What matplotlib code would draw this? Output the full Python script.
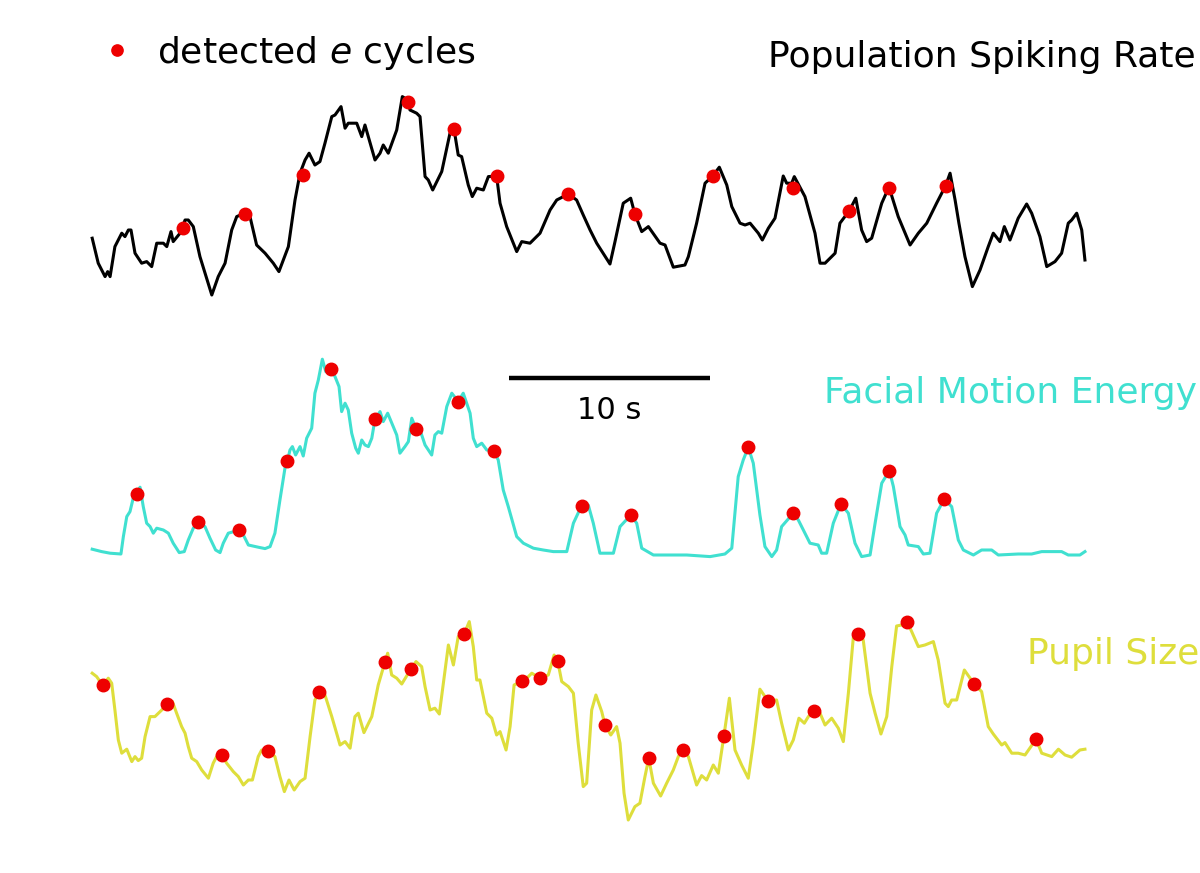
import numpy as np
import matplotlib.pyplot as plt

#%% Data, time in s, values in a.u.

spike_t = [0.01, 0.31, 0.65, 0.78, 0.90, 1.14, 1.48, 1.64, 1.81, 1.94, 2.14, 2.47, 2.72, 2.97, 3.22, 3.55,
           3.72, 3.93, 4.04, 4.38, 4.63, 4.79, 5.04, 5.37, 5.96, 6.28, 6.62, 6.95, 7.20, 7.61, 7.86, 8.19,
           8.61, 9.02, 9.30, 9.77, 10.10, 10.35, 10.60, 10.80, 11.09, 11.34, 11.59, 11.93, 12.09, 12.39,
           12.59, 12.75, 13.17, 13.42, 13.58, 14.08, 14.33, 14.49, 14.74, 15.16, 15.44, 15.71, 15.82,
           16.15, 16.32, 16.57, 16.73, 16.95, 17.40, 17.81, 18.01, 18.22, 18.39, 18.72, 18.92, 19.14,
           19.47, 19.72, 20.13, 20.30, 20.63, 21.13, 21.38, 21.79, 22.29, 22.79, 23.12, 23.70, 24.11,
           24.44, 24.78, 25.11, 25.77, 26.02, 26.43, 26.80, 27.01, 27.35, 27.68, 28.26, 28.51, 28.92,
           29.50, 29.67, 30.08, 30.50, 30.88, 31.21, 31.58, 31.83, 32.24, 32.49, 32.74, 33.15, 33.35,
           33.65, 33.98, 34.39, 34.56, 34.81, 34.94, 35.47, 35.97, 36.22, 36.47, 36.97, 37.21, 37.68,
           38.00, 38.29, 38.54, 38.79, 39.29, 39.65, 40.11, 40.70, 41.11, 41.53, 42.02, 42.47, 42.69,
           42.94, 43.13, 43.43, 43.80, 44.18, 44.59, 44.84, 45.17, 45.39, 45.67, 46.08, 46.50, 46.75,
           47.16, 47.50, 47.91, 48.24, 48.57, 48.74, 48.99, 49.24, 49.40]
spike_v = [30.9, 18.4, 11.7, 14.2, 11.7, 26.7, 33.4, 31.7, 35.0, 35.0, 23.4, 18.4, 19.2, 16.7, 28.4, 28.4,
           26.7, 34.2, 29.2, 33.4, 40.0, 40.0, 36.7, 21.7, 2.5, 11.7, 18.4, 35.0, 41.7, 43.5, 41.7, 27.5,
           23.4, 18.4, 14.2, 26.7, 50.0, 63.4, 70.0, 73.4, 67.5, 69.2, 78.4, 91.7, 92.5, 96.7,
           85.9, 88.4, 88.4, 81.7, 87.5, 70.0, 73.4, 77.5, 73.4, 85.0, 101.7, 100.0, 95.0,
           93.4, 91.7, 61.7, 60.0, 55.0, 64.2, 83.4, 85.5, 72.5, 71.7, 57.5, 51.7, 55.9,
           55.0, 61.7, 62.0, 48.4, 36.7, 24.2, 29.2, 28.4, 33.4, 45.0, 50.0, 53.0, 50.0,
           42.5, 35.0, 28.4, 18.0, 29.2, 48.4, 50.9, 42.9, 34.2, 36.7, 28.4, 27.5, 16.4,
           17.5, 21.7, 38.4, 58.4, 62.0, 66.4, 57.5, 46.7, 38.4, 37.5, 38.4, 33.4, 30.0,
           35.9, 40.9, 62.0, 58.4, 58.4, 61.7, 51.7, 33.4, 18.4, 18.4, 23.4, 38.4, 44.7,
           50.9, 35.0, 29.2, 30.9, 48.4, 56.5, 41.7, 27.5, 33.4, 38.4, 48.4, 57.2, 63.4,
           50.0, 38.4, 21.7, 6.7, 15.0, 26.7, 33.4, 29.2, 36.7, 30.0, 40.9, 48.0, 43.4,
           31.7, 16.7, 19.2, 23.4, 38.4, 40.0, 43.4, 35.0, 20.0]
spike_cyc_t = [4.54, 7.61, 10.51, 15.71, 18.01, 20.13, 23.70, 27.01, 30.88, 34.89, 37.68, 39.67, 42.47]
spike_cyc_v = [35.9, 43.0, 62.5, 99.2, 85.4, 62.0, 53.0, 42.9, 62.0, 56.2, 44.7, 55.9, 57.2]

face_t = [0.01, 0.48, 0.90, 1.44, 1.56, 1.73, 1.89, 2.05, 2.22, 2.39, 2.55, 2.72, 2.89, 3.05, 3.22, 3.55,
          3.80, 4.04, 4.34, 4.59, 4.79, 5.04, 5.29, 5.62, 5.87, 6.15, 6.37, 6.53, 6.78, 7.33, 7.53, 7.78,
          8.27, 8.61, 8.86, 9.10, 9.35, 9.60, 9.72, 9.85, 9.97, 10.13, 10.35, 10.51, 10.68, 10.93, 11.09,
          11.26, 11.46, 11.63, 11.89, 12.09, 12.29, 12.42, 12.59, 12.75, 12.92, 13.12, 13.25, 13.42,
          13.58, 13.75, 13.92, 14.08, 14.33, 14.49, 14.71, 14.99, 15.16, 15.32, 15.57, 15.74, 15.91,
          16.12, 16.32, 16.57, 16.90, 17.06, 17.23, 17.40, 17.65, 17.90, 18.22, 18.47, 18.81, 18.97,
          19.14, 19.39, 19.64, 20.00, 20.21, 20.46, 20.71, 21.13, 21.46, 21.96, 22.45, 22.95, 23.62,
          23.95, 24.36, 24.69, 24.94, 25.27, 25.94, 26.27, 26.80, 27.10, 27.35, 27.93, 29.59, 30.75,
          31.49, 31.83, 32.15, 32.40, 32.65, 32.90, 33.23, 33.48, 33.82, 34.06, 34.31, 34.89, 35.14,
          35.47, 35.72, 36.13, 36.30, 36.55, 36.88, 37.26, 37.63, 37.96, 38.29, 38.71, 38.96, 39.29,
          39.67, 39.87, 40.20, 40.45, 40.61, 41.11, 41.36, 41.69, 42.02, 42.40, 42.77, 43.10, 43.35,
          43.85, 44.26, 44.76, 45.09, 46.08, 46.75, 47.25, 48.24, 48.57, 49.15, 49.40]
face_v = [5.4, 4.2, 3.4, 3.0, 11.7, 21.7, 24.2, 30.9, 33.0, 36.4, 26.7, 18.4, 16.7, 13.4, 15.9, 15.0,
          13.4, 8.4, 3.7, 4.2, 10.0, 15.9, 18.9, 16.7, 10.9, 5.0, 3.7, 8.4, 13.4, 15.0, 12.5, 7.5,
          6.4, 5.7, 6.7, 13.4, 30.0, 45.9, 49.5, 55.0, 56.7, 52.5, 56.7, 52.0, 60.9, 65.9, 83.4,
          90.0, 100.4, 94.2, 95.7, 91.7, 86.7, 74.2, 78.4, 75.0, 63.4, 55.9, 53.4, 60.0,
          57.5, 56.7, 60.9, 70.4, 74.2, 69.2, 73.4, 66.7, 62.5, 53.4, 56.7, 59.2, 70.9,
          65.5, 65.0, 57.5, 52.5, 62.5, 64.2, 63.4, 76.7, 83.4, 79.2, 83.4, 73.4, 60.9,
          56.7, 58.4, 55.0, 54.5, 50.0, 35.0, 26.7, 11.7, 8.4, 5.9, 5.0, 4.2, 4.2,
          18.4, 27.2, 27.5, 18.4, 3.4, 3.4, 16.7, 22.4, 18.4, 5.9, 2.5, 2.5, 1.7,
          3.0, 5.9, 41.7, 50.0, 56.4, 48.4, 22.5, 6.7, 1.7, 5.0, 16.7, 23.4, 20.0,
          13.4, 8.4, 7.5, 3.4, 3.4, 18.4, 28.0, 23.4, 8.4, 1.7, 2.5, 18.4, 38.4,
          44.7, 36.7, 16.7, 12.5, 7.5, 6.7, 3.0, 3.4, 23.4, 30.4, 26.7, 10.0, 5.0,
          2.5, 5.0, 5.0, 2.5, 3.0, 3.0, 4.2, 4.2, 2.5, 2.5, 4.2]
face_cyc_t = [2.22, 5.29, 7.33, 9.72, 11.89, 14.08, 16.12, 18.22, 20.00, 24.36, 26.80, 32.65, 34.89,
              37.26, 39.67, 42.40]
face_cyc_v = [33.0, 18.9, 15.0, 49.5, 95.7, 70.4, 65.5, 79.2, 54.5, 27.2, 22.4, 56.4, 23.4, 28.0,
              44.7, 30.4]

pupil_t = [0.01, 0.23, 0.53, 0.81, 0.98, 1.14, 1.31, 1.48, 1.73, 1.98, 2.14, 2.30, 2.47, 2.64, 2.89, 3.13,
           3.47, 3.72, 4.00, 4.21, 4.46, 4.63, 4.79, 4.96, 5.21, 5.46, 5.79, 6.03, 6.20, 6.45, 6.70, 7.03,
           7.28, 7.53, 7.78, 7.98, 8.27, 8.44, 8.74, 9.10, 9.35, 9.57, 9.80, 10.06, 10.35, 10.60, 10.85,
           11.09, 11.31, 11.59, 11.93, 12.34, 12.59, 12.84, 13.08, 13.25, 13.53, 13.92, 14.24, 14.58,
           14.71, 14.91, 15.16, 15.41, 15.86, 16.12, 16.40, 16.57, 16.82, 17.06, 17.28, 17.48, 17.73,
           17.98, 18.22, 18.51, 18.77, 18.97, 19.14, 19.30, 19.64, 19.89, 20.13, 20.30, 20.60, 20.80,
           21.00, 21.39, 21.63, 21.88, 22.29, 22.70, 22.99, 23.17, 23.37, 23.70, 23.95, 24.19, 24.44,
           24.61, 24.86, 25.07, 25.36, 25.52, 25.81, 26.10, 26.27, 26.47, 26.68, 27.01, 27.26, 27.51,
           27.70, 27.93, 28.29, 28.59, 28.92, 29.17, 29.40, 29.67, 30.08, 30.33, 30.58, 30.91, 31.16,
           31.44, 31.71, 31.99, 32.32, 32.65, 32.90, 33.23, 33.62, 34.06, 34.31, 34.64, 34.89, 35.17,
           35.44, 35.64, 35.91, 36.22, 36.47, 36.80, 37.13, 37.38, 37.63, 37.88, 38.09, 38.37, 38.71,
           38.96, 39.25, 39.54, 39.79, 40.03, 40.28, 40.55, 40.78, 41.11, 41.44, 41.86, 42.10, 42.44,
           42.60, 42.77, 43.02, 43.40, 43.89, 44.26, 44.59, 44.84, 45.26, 45.42, 45.76, 46.08, 46.42,
           46.97, 47.25, 47.75, 48.08, 48.41, 48.74, 49.15, 49.40]
pupil_v = [78.4, 76.7, 72.4, 75.9, 73.4, 60.0, 45.0, 38.4, 40.4, 34.2, 36.7, 34.7, 35.9, 46.7, 56.7, 56.7,
           60.0, 63.0, 64.2, 58.4, 51.7, 48.4, 41.7, 35.9, 34.2, 30.0, 25.9, 33.4, 36.7, 37.5, 33.4, 29.2,
           26.7, 22.5, 25.0, 25.0, 36.7, 40.0, 39.7, 36.7, 26.7, 19.2, 25.0, 20.0, 24.2, 25.9, 46.7,
           65.0, 69.0, 67.5, 56.7, 42.5, 44.2, 40.9, 56.7, 58.4, 48.7, 56.7, 72.5, 84.2,
           88.4, 77.5, 75.9, 73.0, 80.4, 84.2, 81.7, 71.7, 60.0, 60.9, 58.0, 73.4, 92.5,
           82.5, 96.7, 97.9, 104.2, 91.7, 75.0, 75.0, 58.4, 55.9, 47.5, 49.2, 40.0, 51.7,
           72.5, 74.4, 75.9, 78.4, 75.9, 77.5, 87.5, 84.5, 74.2, 71.7, 68.4, 43.4, 21.7,
           23.4, 60.0, 67.5, 59.2, 52.5, 47.5, 51.7, 43.4, 18.4, 5.0, 11.7, 13.4, 26.7,
           35.9, 23.4, 17.0, 23.4, 30.0, 36.7, 40.0, 36.7, 22.5, 27.2, 25.0, 32.5, 28.4,
           47.2, 65.9, 40.0, 32.5, 25.9, 43.4, 70.4, 64.7, 65.0, 53.4, 40.0, 45.0, 55.9,
           53.4, 56.7, 59.4, 58.4, 52.5, 55.9, 50.9, 44.2, 68.4, 96.7, 98.0, 95.0, 68.4,
           58.4, 48.0, 56.7, 81.7, 102.0, 102.5, 104.2, 99.2, 91.7, 92.5, 94.2, 85.0, 63.4,
           61.7, 65.0, 65.0, 80.0, 73.0, 69.2, 51.7, 48.0, 42.5, 43.7, 38.4, 38.4, 37.5,
           45.4, 38.4, 36.7, 40.4, 37.5, 36.4, 40.0, 40.4]
pupil_cyc_t = [0.53, 3.72, 6.45, 8.74, 11.31, 14.58, 15.86, 18.51, 21.39, 22.29, 23.17, 25.52, 27.70,
               29.40, 31.44, 33.62, 35.91, 38.09, 40.55, 43.89, 46.97]
pupil_cyc_v = [72.4, 63.0, 37.5, 39.7, 69.0, 84.2, 80.4, 97.9, 74.4, 75.9, 84.5, 52.5, 35.9, 40.0,
               47.2, 64.7, 59.4, 98.0, 104.2, 73.0, 45.4]

scalebar_s = 10

#%% Layout (one axes over the whole figure; x in s, y in pixel rows)

W, H = 1200, 873
px_per_s = 20.1
t0_px = 92

c_face = '#40E0D0'
c_pupil = '#dede3c'
c_dot = '#ee0000'

fig = plt.figure(figsize=(W / 100, H / 100), dpi=100)
ax = fig.add_axes([0, 0, 1, 1])
ax.set_xlim(-t0_px / px_per_s, (W - t0_px) / px_per_s)
ax.set_ylim(H, 0)
ax.axis('off')

def tx(px):
    return (px - t0_px) / px_per_s

# each trace: baseline row and pixels per unit
traces = [(spike_t, spike_v, spike_cyc_t, spike_cyc_v, 'black', 300),
          (face_t, face_v, face_cyc_t, face_cyc_v, c_face, 560),
          (pupil_t, pupil_v, pupil_cyc_t, pupil_cyc_v, c_pupil, 830)]
gain = 2.0

for i, (t, v, ct, cv, col, base) in enumerate(traces):
    ax.plot(t, base - gain * np.array(v), color=col, lw=2.2, solid_joinstyle='round', zorder=2)
    ax.plot(ct, base - gain * np.array(cv), 'o', color=c_dot, ms=9, mec=c_dot, zorder=3,
            label='detected $e$ cycles' if i == 0 else None)

### Labels
ax.text(tx(768), 67, 'Population Spiking Rate', fontsize=26, color='black', va='baseline', ha='left')
ax.text(tx(824), 403, 'Facial Motion Energy', fontsize=26, color=c_face, va='baseline', ha='left')
ax.text(tx(1027), 664, 'Pupil Size', fontsize=26, color=c_pupil, va='baseline', ha='left')

### Scale bar
sb0 = tx(509)
ax.plot([sb0, sb0 + scalebar_s], [378, 378], color='black', lw=3.2, solid_capstyle='butt')
ax.text(sb0 + scalebar_s / 2, 419, '%d s' % scalebar_s, fontsize=22, ha='center', va='baseline')

### Legend
leg = ax.legend(loc='center left', bbox_to_anchor=(99 / W, 1 - 53 / H), frameon=False, fontsize=26,
                handlelength=1.0, handletextpad=0.6, borderpad=0, borderaxespad=0, markerscale=0.9)

fig.savefig('out.png', dpi=100)
